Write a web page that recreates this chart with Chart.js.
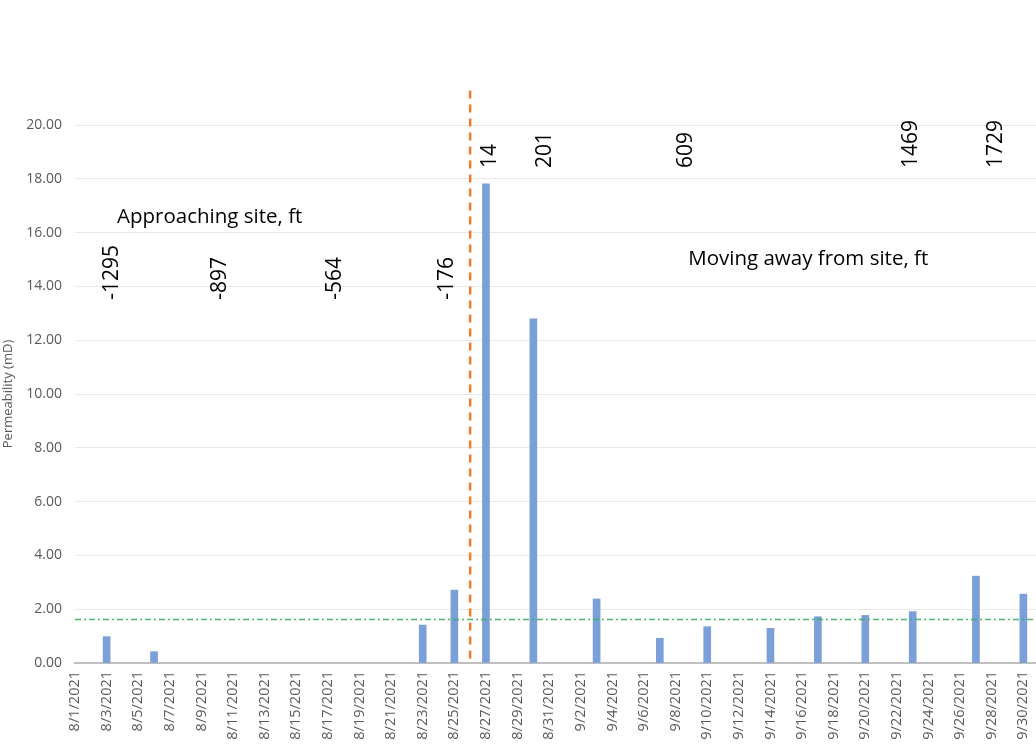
<!DOCTYPE html>
<html>
<head>
    <meta charset="utf-8" lang="en">
    <title>Permeability vs date</title>
    <script src="https://cdn.jsdelivr.net/npm/chart.js@4.4.1/dist/chart.umd.min.js"></script>
    <style>
        html, body {
            margin: 0;
            padding: 0;
            background: #ffffff;
            overflow: hidden;
        }

        #wrap {
            width: 1036px;
            height: 750px;
        }
    </style>
</head>
<body>

    <div id="wrap"><canvas id="permChart"></canvas></div>

    <script>
        const barDates = ['8/3/2021', '8/6/2021', '8/23/2021', '8/25/2021', '8/27/2021', '8/30/2021',
            '9/3/2021', '9/7/2021', '9/10/2021', '9/14/2021', '9/17/2021', '9/20/2021',
            '9/23/2021', '9/27/2021', '9/30/2021'];
        const barValues = [0.98, 0.42, 1.41, 2.71, 17.81, 12.79,
            2.38, 0.92, 1.35, 1.29, 1.72, 1.77,
            1.91, 3.23, 2.56];

        // x axis labels, one every second day starting 8/1/2021
        const tickLabels = ['8/1/2021', '8/3/2021', '8/5/2021', '8/7/2021', '8/9/2021', '8/11/2021',
            '8/13/2021', '8/15/2021', '8/17/2021', '8/19/2021', '8/21/2021', '8/23/2021',
            '8/25/2021', '8/27/2021', '8/29/2021', '8/31/2021', '9/2/2021', '9/4/2021',
            '9/6/2021', '9/8/2021', '9/10/2021', '9/12/2021', '9/14/2021', '9/16/2021',
            '9/18/2021', '9/20/2021', '9/22/2021', '9/24/2021', '9/26/2021', '9/28/2021',
            '9/30/2021'];

        const siteDate = '8/26/2021';    // orange dashed line
        const thresholdValue = 1.62;     // green dash-dot line

        // distance labels (ft)
        const distanceLabels = ['-1295', '-897', '-564', '-176', '14', '201', '609', '1469', '1729'];
        const sideLabels = ['Approaching site, ft', 'Moving away from site, ft'];

        const startDay = new Date('8/1/2021');
        function dayIndex(s) {
            return Math.round((new Date(s) - startDay) / 86400000);
        }

        // where the text boxes sit, in axis units (day, mD)
        const distancePos = [[2.34, 13.5], [9.18, 13.5], [16.46, 13.5], [23.54, 13.5],
            [26.27, 18.4], [29.75, 18.4], [38.67, 18.4], [52.9, 18.4], [58.3, 18.4]];
        const sidePos = [[2.66, 16.36], [38.8, 14.8]];

        const FONT = "'Open Sans', 'DejaVu Sans', sans-serif";

        const overlay = {
            id: 'overlay',
            afterDatasetsDraw(chart) {
                const ctx = chart.ctx;
                const x = chart.scales.x;
                const y = chart.scales.y;
                const area = chart.chartArea;

                ctx.save();
                // threshold line
                ctx.strokeStyle = 'rgba(56, 178, 92, 0.9)';
                ctx.lineWidth = 1.5;
                ctx.setLineDash([6, 3, 2, 3]);
                const ty = y.getPixelForValue(thresholdValue);
                ctx.beginPath();
                ctx.moveTo(area.left, ty);
                ctx.lineTo(area.right, ty);
                ctx.stroke();

                // site line
                ctx.strokeStyle = '#ED7D31';
                ctx.lineWidth = 2.5;
                ctx.setLineDash([8, 6]);
                const sx = x.getPixelForValue(dayIndex(siteDate));
                ctx.beginPath();
                ctx.moveTo(sx, y.getPixelForValue(21.28));
                ctx.lineTo(sx, y.getPixelForValue(0));
                ctx.stroke();
                ctx.setLineDash([]);

                // rotated distance numbers
                ctx.fillStyle = '#000000';
                ctx.font = '21px ' + FONT;
                ctx.textAlign = 'left';
                ctx.textBaseline = 'middle';
                distanceLabels.forEach((t, i) => {
                    ctx.save();
                    ctx.translate(x.getPixelForValue(distancePos[i][0]), y.getPixelForValue(distancePos[i][1]));
                    ctx.rotate(-Math.PI / 2);
                    ctx.fillText(t, 0, 0);
                    ctx.restore();
                });

                // side captions
                ctx.font = '20.5px ' + FONT;
                ctx.textBaseline = 'alphabetic';
                sideLabels.forEach((t, i) => {
                    ctx.fillText(t, x.getPixelForValue(sidePos[i][0]), y.getPixelForValue(sidePos[i][1]));
                });
                ctx.restore();
            }
        };

        const ctx = document.getElementById('permChart').getContext('2d');
        const chart = new Chart(ctx, {
            type: 'bar',
            data: {
                datasets: [{
                    label: 'Permeability',
                    data: barDates.map((d, i) => ({ x: dayIndex(d), y: barValues[i] })),
                    backgroundColor: '#7A9FD9',
                    borderWidth: 0,
                    barThickness: 7,
                }]
            },
            options: {
                responsive: true,
                maintainAspectRatio: false,
                animation: false,
                layout: {
                    padding: { top: 125, right: 0, bottom: 0, left: 0 }
                },
                plugins: {
                    legend: { display: false },
                    tooltip: { enabled: false },
                },
                scales: {
                    x: {
                        type: 'linear',
                        min: 0,
                        max: 60.8,
                        offset: false,
                        grid: { display: false, drawTicks: false },
                        border: { color: '#BFBFBF', width: 2 },
                        ticks: {
                            stepSize: 2,
                            includeBounds: false,
                            autoSkip: false,
                            maxRotation: 90,
                            minRotation: 90,
                            padding: 8,
                            color: '#595959',
                            font: { family: FONT, size: 14.5 },
                            callback: (v) => tickLabels[v / 2],
                        },
                        afterFit(scale) {
                            scale.height = 87;
                            scale.paddingLeft = 0;
                            scale.paddingRight = 0;
                        },
                    },
                    y: {
                        min: 0,
                        max: 20,
                        grid: { color: '#E8E8E8', drawTicks: false },
                        border: { display: false },
                        ticks: {
                            stepSize: 2,
                            padding: 13,
                            color: '#595959',
                            font: { family: FONT, size: 14 },
                            callback: (v) => v.toFixed(2),
                        },
                        title: {
                            display: true,
                            text: 'Permeability (mD)',
                            color: '#595959',
                            font: { family: FONT, size: 13 },
                            padding: { top: 0, bottom: 0 },
                        },
                        afterFit(scale) {
                            scale.width = 75;
                            scale.paddingTop = 0;
                            scale.paddingBottom = 0;
                        },
                    }
                }
            },
            plugins: [overlay]
        });
    </script>
</body>
</html>
